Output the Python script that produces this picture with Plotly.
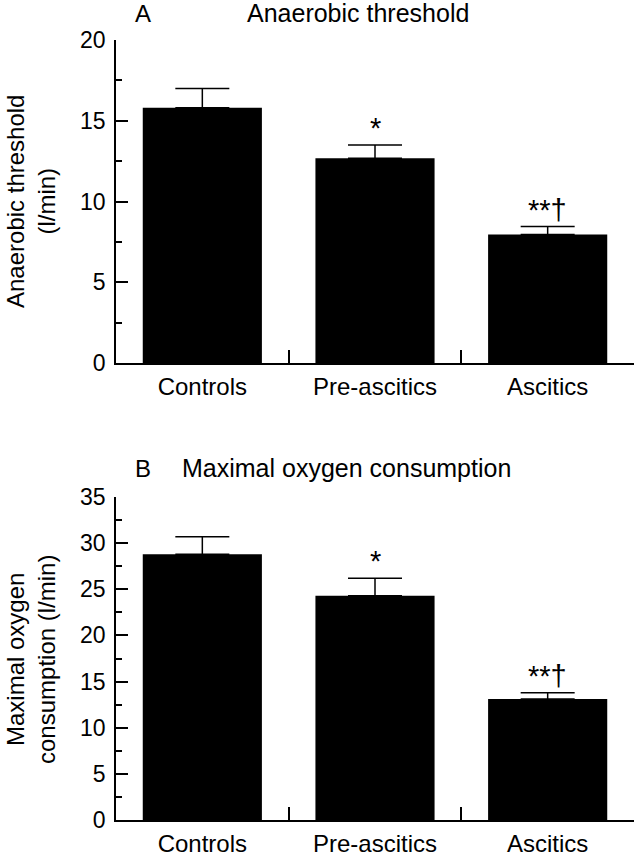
import plotly.graph_objects as go

categories = ["Controls", "Pre-ascitics", "Ascitics"]
at_values = [15.8, 12.68, 7.95]
at_errors = [1.2, 0.82, 0.5]
at_marks = ["", "*", "**†"]
vo2_values = [28.8, 24.3, 13.1]
vo2_errors = [1.9, 1.9, 0.7]
vo2_marks = ["", "*", "**†"]

W, H = 634, 852
FONT = "Liberation Sans, Arial, Helvetica, sans-serif"

def px_x(p):
    return p / W

def px_y(p):
    return 1 - p / H

fig = go.Figure()

fig.add_trace(go.Bar(
    x=categories, y=at_values, width=0.69, marker=dict(color="black", line=dict(width=0)),
    error_y=dict(type="data", array=at_errors, arrayminus=[0] * 3, symmetric=False,
                 color="black", thickness=1.5, width=27),
    xaxis="x", yaxis="y", showlegend=False))

fig.add_trace(go.Bar(
    x=categories, y=vo2_values, width=0.69, marker=dict(color="black", line=dict(width=0)),
    error_y=dict(type="data", array=vo2_errors, arrayminus=[0] * 3, symmetric=False,
                 color="black", thickness=1.5, width=27),
    xaxis="x2", yaxis="y2", showlegend=False))

xaxis_common = dict(
    type="category", range=[-0.5, 2.5], showline=True, linecolor="black", linewidth=1.5,
    ticks="inside", tickson="boundaries", ticklen=13, tickwidth=1.5, tickcolor="black",
    showgrid=False, zeroline=False, tickfont=dict(family=FONT, size=24, color="black"),
    ticklabelstandoff=1, fixedrange=True, automargin=False,
)

def yaxis_common():
    return dict(
        showline=True, linecolor="black", linewidth=1.5, ticks="inside", ticklen=12,
        tickwidth=1.5, tickcolor="black", showgrid=False, zeroline=False,
        tickfont=dict(family=FONT, size=23, color="black"), ticklabelstandoff=4,
        automargin=False, fixedrange=True,
        minor=dict(ticks="inside", ticklen=6, tickwidth=1.5, tickcolor="black",
                   dtick=2.5, showgrid=False),
    )

fig.update_layout(
    width=W, height=H, margin=dict(l=0, r=0, t=0, b=0, autoexpand=False),
    paper_bgcolor="white", plot_bgcolor="white",
    xaxis=dict(domain=[px_x(116), px_x(634)], anchor="y", **xaxis_common),
    yaxis=dict(domain=[px_y(363), px_y(40)], anchor="x", range=[0, 20], dtick=5, **yaxis_common()),
    xaxis2=dict(domain=[px_x(116), px_x(634)], anchor="y2", **xaxis_common),
    yaxis2=dict(domain=[px_y(820), px_y(497)], anchor="x2", range=[0, 35], dtick=5, **yaxis_common()),
    font=dict(family=FONT, size=24, color="black"),
)

anns = []
MARK_FONT = dict(family=FONT, size=29, color="black")
# significance marks
for cat, v, e, m in zip(categories, at_values, at_errors, at_marks):
    if m:
        anns.append(dict(x=cat, y=v + e, xref="x", yref="y", text=m, showarrow=False,
                         yanchor="bottom", yshift=-1, font=MARK_FONT))
for cat, v, e, m in zip(categories, vo2_values, vo2_errors, vo2_marks):
    if m:
        anns.append(dict(x=cat, y=v + e, xref="x2", yref="y2", text=m, showarrow=False,
                         yanchor="bottom", yshift=-1, font=MARK_FONT))

# panel titles
anns += [
    dict(x=px_x(133), y=px_y(13), xref="paper", yref="paper", text="A", showarrow=False,
         xanchor="left", yanchor="middle", font=dict(family=FONT, size=24)),
    dict(x=px_x(245), y=px_y(13), xref="paper", yref="paper", text="Anaerobic threshold",
         showarrow=False, xanchor="left", yanchor="middle", font=dict(family=FONT, size=25)),
    dict(x=px_x(133), y=px_y(468), xref="paper", yref="paper", text="B", showarrow=False,
         xanchor="left", yanchor="middle", font=dict(family=FONT, size=24)),
    dict(x=px_x(180), y=px_y(468), xref="paper", yref="paper", text="Maximal oxygen consumption",
         showarrow=False, xanchor="left", yanchor="middle", font=dict(family=FONT, size=25)),
]

# y axis titles
anns += [
    dict(x=px_x(31), y=px_y(202), xref="paper", yref="paper",
         text="Anaerobic threshold<br>(l/min)", showarrow=False, textangle=-90,
         xanchor="center", yanchor="middle", font=dict(family=FONT, size=24)),
    dict(x=px_x(31), y=px_y(660), xref="paper", yref="paper",
         text="Maximal oxygen<br>consumption (l/min)", showarrow=False, textangle=-90,
         xanchor="center", yanchor="middle", font=dict(family=FONT, size=24)),
]

fig.update_layout(annotations=anns)
fig.write_html("out.html", config={"displayModeBar": False},
               post_script="document.body.style.margin='0';")
